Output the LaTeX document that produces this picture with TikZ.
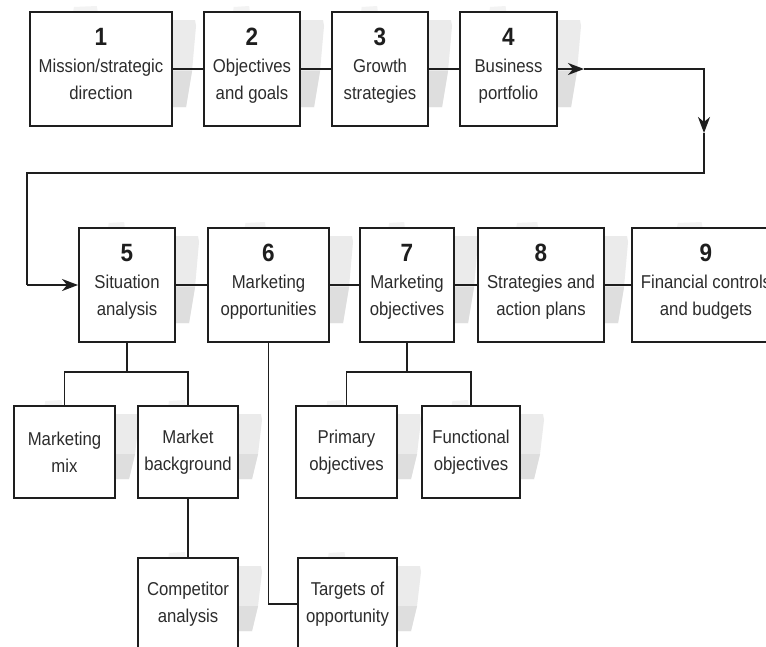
\documentclass[tikz,border=0pt]{standalone}
\usepackage{fontspec}
\setmainfont{Liberation Sans}[FakeStretch=0.9]
\usetikzlibrary{arrows.meta}

\definecolor{ink}{HTML}{1E1E1E}
\definecolor{txt}{HTML}{2C2C2C}
\definecolor{shadefaint}{HTML}{F3F3F3}
\definecolor{shadelight}{HTML}{EBEBEB}
\definecolor{shadedark}{HTML}{DEDEDE}

% grey page-like shade behind a box: left, top, right, bottom
\newcommand\pageshade[4]{%
  \fill[shadefaint] ({#1+0.31*(#3-#1)},{#2-5}) -- ({#1+0.47*(#3-#1)},{#2-6})
     -- ({#1+0.48*(#3-#1)},{#2+2}) -- ({#1+0.3*(#3-#1)},{#2+2}) -- cycle;
  \fill[shadelight] ({#3-2},{#2+8}) -- ({#3+23},{#2+8}) -- ({#3+24},{#2+14})
     -- ({#3+20},{(#2+#4)/2+2}) -- ({#3+14},{#4-19}) -- ({#3-2},{#4-19}) -- cycle;
  \fill[shadedark] ({#3-2},{(#2+#4)/2+2}) -- ({#3+20},{(#2+#4)/2+2})
     -- ({#3+14},{#4-19}) -- ({#3-2},{#4-19}) -- cycle;
}

% box from its edges: name, left, top, right, bottom, text
\newcommand\stepbox[6]{%
  \node[box, minimum width={#4-#2}, minimum height={#5-#3}] (#1)
     at ({(#2+#4)/2},{(#3+#5)/2}) {#6};}

\newcommand\boxnum[1]{{\color{ink}\fontsize{25}{27}\bfseries #1}}
\newcommand\boxfloor{\rule[-10pt]{0pt}{10pt}}

\begin{document}
\begin{tikzpicture}[x=1pt, y=-1pt,
  box/.style={draw=ink, line width=1.9pt, fill=white, inner sep=0pt,
    align=center, text=txt, font=\fontsize{18.6}{27}\selectfont},
  link/.style={draw=ink, line width=1.9pt},
  tip/.style={-{Stealth[length=16pt, width=12pt, inset=5pt]}}]

\useasboundingbox (0,0) rectangle (766,646);
\clip (0,0) rectangle (766,646);
\fill[white] (0,0) rectangle (766,646);

% shades
\pageshade{30}{12}{172}{126}
\pageshade{204}{12}{300}{126}
\pageshade{332}{12}{428}{126}
\pageshade{460}{12}{557}{126}
\pageshade{79}{228}{175}{342}
\pageshade{208}{228}{329}{342}
\pageshade{360}{228}{454}{342}
\pageshade{478}{228}{604}{342}
\pageshade{632}{228}{780}{342}
\pageshade{14}{406}{115}{498}
\pageshade{138}{406}{238}{498}
\pageshade{296}{406}{397}{498}
\pageshade{422}{406}{520}{498}
\pageshade{138}{558}{238}{650}
\pageshade{298}{558}{397}{650}

% planning steps
\stepbox{n1}{30}{12}{172}{126}{\boxnum{1}\\Mission/strategic\\direction\boxfloor}
\stepbox{n2}{204}{12}{300}{126}{\boxnum{2}\\Objectives\\and goals\boxfloor}
\stepbox{n3}{332}{12}{428}{126}{\boxnum{3}\\Growth\\strategies\boxfloor}
\stepbox{n4}{460}{12}{557}{126}{\boxnum{4}\\Business\\portfolio\boxfloor}

\stepbox{n5}{79}{228}{175}{342}{\boxnum{5}\\Situation\\analysis\boxfloor}
\stepbox{n6}{208}{228}{329}{342}{\boxnum{6}\\Marketing\\opportunities\boxfloor}
\stepbox{n7}{360}{228}{454}{342}{\boxnum{7}\\Marketing\\objectives\boxfloor}
\stepbox{n8}{478}{228}{604}{342}{\boxnum{8}\\Strategies and\\action plans\boxfloor}
\stepbox{n9}{632}{228}{780}{342}{\boxnum{9}\\Financial controls\\and budgets\boxfloor}

% sub-topics
\stepbox{mm}{14}{406}{115}{498}{Marketing\\mix}
\stepbox{mb}{138}{406}{238}{498}{Market\\background}
\stepbox{po}{296}{406}{397}{498}{Primary\\objectives}
\stepbox{fo}{422}{406}{520}{498}{Functional\\objectives}
\stepbox{ca}{138}{558}{238}{650}{Competitor\\analysis}
\stepbox{to}{298}{558}{397}{650}{Targets of\\opportunity}

% bends of the return path
\coordinate (arrA) at (584,69);
\coordinate (turnA) at (704,69);
\coordinate (arrB) at (704,133);
\coordinate (turnB) at (704,173);
\coordinate (turnC) at (27,173);
\coordinate (turnD) at (27,285);
\coordinate (fork5) at (127,372);
\coordinate (fork7) at (407,372);

% first row
\draw[link] (n1.east) -- (n2.west);
\draw[link] (n2.east) -- (n3.west);
\draw[link] (n3.east) -- (n4.west);
\draw[link, tip] (n4.east) -- (arrA);
\draw[link, tip] (arrA) -- (turnA) -- (arrB);
\draw[link] (arrB) -- (turnB) -- (turnC) -- (turnD);
\draw[link, tip] (turnD) -- (n5.west);

% second row
\draw[link] (n5.east) -- (n6.west);
\draw[link] (n6.east) -- (n7.west);
\draw[link] (n7.east) -- (n8.west);
\draw[link] (n8.east) -- (n9.west);

% branches
\draw[link] (n5.south) -- (fork5);
\draw[link] (mm.north) |- (fork5) -| (mb.north);
\draw[link] (mb.south) -- (ca.north);
\draw[link] (n7.south) -- (fork7);
\draw[link] (po.north) |- (fork7) -| (fo.north);
\draw[link] (n6.south) |- (to.west);
\end{tikzpicture}
\end{document}
